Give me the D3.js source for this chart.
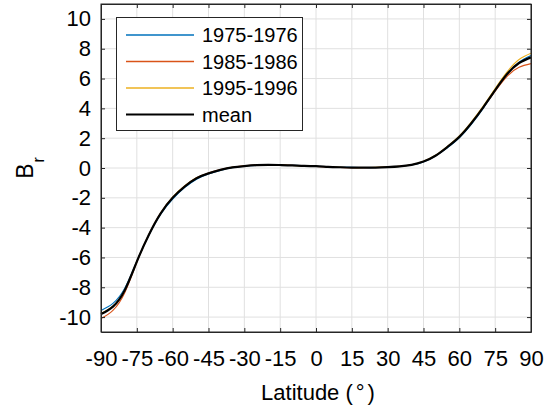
<!DOCTYPE html>
<html><head><meta charset="utf-8">
<script src="https://cdn.jsdelivr.net/npm/d3@7"></script>
<style>body{margin:0;background:#fff;} text{font-family:"Liberation Sans",Arial,Helvetica,sans-serif;}</style>
</head><body>
<svg id="chart" width="555" height="408"></svg>
<script>
const latitudes = [-90,-85,-80,-75,-70,-65,-60,-55,-50,-45,-40,-35,-30,-25,-20,-15,-10,-5,0,5,10,15,20,25,30,35,40,45,50,55,60,65,70,75,80,85,90];
const series1975 = [-9.55,-9.08,-8.05,-6.25,-4.52,-3.1,-2.08,-1.32,-0.75,-0.4,-0.16,0.02,0.12,0.18,0.2,0.2,0.18,0.15,0.12,0.09,0.06,0.04,0.03,0.03,0.05,0.1,0.2,0.4,0.8,1.35,2.02,2.92,4.0,5.18,6.3,7.1,7.55];
const series1985 = [-10.1,-9.55,-8.35,-6.32,-4.47,-3.0,-1.97,-1.22,-0.66,-0.33,-0.1,0.05,0.14,0.2,0.22,0.21,0.18,0.14,0.11,0.07,0.04,0.02,0.02,0.03,0.06,0.12,0.22,0.44,0.82,1.42,2.1,3.0,4.05,5.15,6.15,6.75,7.0];
const series1995 = [-9.75,-9.27,-8.15,-6.27,-4.48,-3.02,-1.95,-1.21,-0.66,-0.35,-0.13,0.04,0.13,0.19,0.21,0.2,0.17,0.14,0.12,0.08,0.05,0.03,0.03,0.04,0.06,0.11,0.22,0.45,0.85,1.45,2.15,3.08,4.15,5.33,6.45,7.28,7.7];
const seriesMean = [-9.8,-9.3,-8.18,-6.28,-4.49,-3.04,-2.0,-1.25,-0.69,-0.36,-0.13,0.04,0.13,0.19,0.21,0.2,0.18,0.14,0.12,0.08,0.05,0.03,0.03,0.03,0.06,0.11,0.21,0.43,0.82,1.41,2.09,3.0,4.07,5.22,6.3,7.04,7.42];
const seriesNames = ["1975-1976","1985-1986","1995-1996","mean"];
const seriesColors = ["#0072BD","#D95319","#EDB120","#000000"];
const xTicks = [-90,-75,-60,-45,-30,-15,0,15,30,45,60,75,90];
const yTicks = [-10,-8,-6,-4,-2,0,2,4,6,8,10];

const svg = d3.select("#chart");
const L = 101, R = 531, T = 4, B = 332;
const x = d3.scaleLinear().domain([-90,90]).range([L,R]);
const y = d3.scaleLinear().domain([-11,11]).range([B,T]);
const axisColor = "#262626";

// grid
const g = svg.append("g");
g.selectAll(".gx").data(xTicks).enter().append("line")
  .attr("x1", d=>x(d)).attr("x2", d=>x(d)).attr("y1", T).attr("y2", B)
  .attr("stroke", "#e0e0e0").attr("stroke-width", 1);
g.selectAll(".gy").data(yTicks).enter().append("line")
  .attr("y1", d=>y(d)).attr("y2", d=>y(d)).attr("x1", L).attr("x2", R)
  .attr("stroke", "#e0e0e0").attr("stroke-width", 1);

// lines
const allSeries = [series1975, series1985, series1995, seriesMean];
const line = d3.line().x((d,i)=>x(latitudes[i])).y(d=>y(d)).curve(d3.curveNatural);
allSeries.forEach((s,i)=>{
  svg.append("path").datum(s).attr("d", line).attr("fill","none")
    .attr("stroke", seriesColors[i]).attr("stroke-width", i===3?2.2:1.1);
});

// axes
const fmt = d => d < 0 ? "-" + Math.abs(d) : String(d);
const axB = svg.append("g").attr("transform",`translate(0,${B})`)
  .call(d3.axisBottom(x).tickValues(xTicks).tickSizeInner(-4).tickSizeOuter(0).tickPadding(18).tickFormat(fmt));
const axT = svg.append("g").attr("transform",`translate(0,${T})`)
  .call(d3.axisTop(x).tickValues(xTicks).tickSizeInner(-4).tickSizeOuter(0).tickFormat(""));
const axL = svg.append("g").attr("transform",`translate(${L},0)`)
  .call(d3.axisLeft(y).tickValues(yTicks).tickSizeInner(-4).tickSizeOuter(0).tickPadding(10).tickFormat(fmt));
const axR = svg.append("g").attr("transform",`translate(${R},0)`)
  .call(d3.axisRight(y).tickValues(yTicks).tickSizeInner(-4).tickSizeOuter(0).tickFormat(""));
[axB,axT,axL,axR].forEach(a=>{
  a.select(".domain").attr("stroke", axisColor).attr("stroke-width",1);
  a.selectAll(".tick line").attr("stroke", axisColor);
  a.selectAll("text").attr("fill", "#000").style("font-size","22px").style("font-family","'Liberation Sans',Arial,sans-serif");
});
svg.append("rect").attr("x",L).attr("y",T).attr("width",R-L).attr("height",B-T)
  .attr("fill","none").attr("stroke",axisColor).attr("stroke-width",1);

// axis labels
const xl = svg.append("text").attr("x",(L+R)/2 + 2).attr("y",400).attr("text-anchor","middle")
  .style("font-size","22px");
xl.append("tspan").text("Latitude (");
xl.append("tspan").attr("dx",3).text("°");
xl.append("tspan").attr("dx",3).text(")");
const yl = svg.append("text").attr("transform",`translate(33,168) rotate(-90)`).attr("text-anchor","middle")
  .style("font-size","23px");
yl.append("tspan").text("B");
yl.append("tspan").attr("dy",11).attr("dx",1).style("font-size","16px").text("r");

// legend
const lg = svg.append("g");
lg.append("rect").attr("x",116.5).attr("y",17.5).attr("width",186).attr("height",113)
  .attr("fill","#fff").attr("stroke","#262626").attr("stroke-width",1);
const rowsY = [35,61.5,88,114.5];
seriesNames.forEach((n,i)=>{
  lg.append("line").attr("x1",126).attr("x2",194).attr("y1",rowsY[i]).attr("y2",rowsY[i])
    .attr("stroke",seriesColors[i]).attr("stroke-width", i===3?2.2:1.3);
  lg.append("text").attr("x",202).attr("y",rowsY[i]).attr("dy","0.36em")
    .style("font-size","20px").text(n);
});
</script>
</body></html>
